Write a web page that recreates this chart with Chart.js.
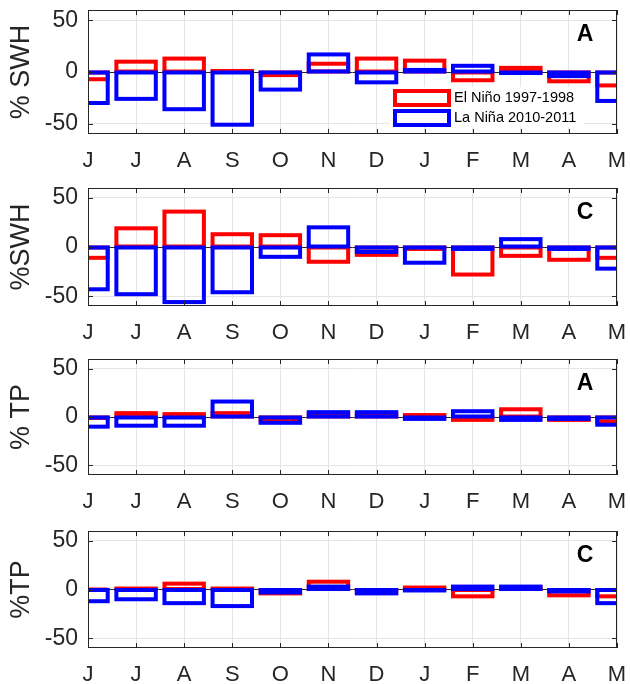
<!DOCTYPE html>
<html>
<head>
<meta charset="utf-8">
<script src="https://cdn.jsdelivr.net/npm/chart.js@4"></script>
<style>
  body { margin: 0; background: #fff; overflow: hidden; }
  .panel { position: absolute; left: 0; width: 630px; }
</style>
</head>
<body>
<div class="panel" id="p1"><canvas id="c1"></canvas></div>
<div class="panel" id="p2"><canvas id="c2"></canvas></div>
<div class="panel" id="p3"><canvas id="c3"></canvas></div>
<div class="panel" id="p4"><canvas id="c4"></canvas></div>
<script>
// June -> May, anomalies in %
var months = ["J", "J", "A", "S", "O", "N", "D", "J", "F", "M", "A", "M"];
var yTicks = [-50, 0, 50];
var legendLabels = ["El Niño 1997-1998", "La Niña 2010-2011"];

var swhA_nino = [-7, 10, 13, 1, -3, 8, 13, 11, -8, 4, -9, -13];
var swhA_nina = [-30, -26, -36, -51, -17, 17, -10, 2, 6, -1, -4, -28];
var swhC_nino = [-11, 19, 36, 13, 12, -15, -8, -2, -28, -9, -13, -11];
var swhC_nina = [-43, -48, -56, -46, -10, 20, -5, -16, -2, 8, -2, -22];
var tpA_nino = [-1, 4, 3, 4, -4, 3, 3, 2, -3, 8, -3, -5];
var tpA_nina = [-10, -9, -9, 16, -6, 5, 5, -2, 6, -3, -2, -8];
var tpC_nino = [0, 1, 6, 1, -4, 8, -3, 2, -7, 2, -6, -7];
var tpC_nina = [-12, -10, -14, -17, -3, 3, -4, -1, 3, 3, -2, -14];

var FONT = "'Liberation Sans', Arial, Helvetica, sans-serif";
var INK = "#262626";
var RED = "#ff0000";
var BLUE = "#0000ff";

// top of plot box and its height, per panel
var panels = [
  { box: "p1", canvas: "c1", top: 10, h: 124, title: "% SWH", tag: "A", nino: swhA_nino, nina: swhA_nina, legend: true },
  { box: "p2", canvas: "c2", top: 188, h: 118, title: "%SWH", tag: "C", nino: swhC_nino, nina: swhC_nina },
  { box: "p3", canvas: "c3", top: 359, h: 116, title: "% TP", tag: "A", nino: tpA_nino, nina: tpA_nina },
  { box: "p4", canvas: "c4", top: 531, h: 117, title: "%TP", tag: "C", nino: tpC_nino, nina: tpC_nina }
];

// matlab-ish look: open boxes, full axes box, inward ticks, legend inside
var matlabLook = {
  id: "matlabLook",
  afterDatasetsDraw: function (chart) {
    var ctx = chart.ctx, a = chart.chartArea;
    var xs = chart.scales.x;
    var w = (xs.getPixelForValue(1) - xs.getPixelForValue(0)) * 0.82;
    ctx.save();
    ctx.beginPath();
    ctx.rect(a.left, a.top, a.right - a.left, a.bottom - a.top);
    ctx.clip();
    ctx.lineWidth = 4;
    chart.data.datasets.forEach(function (ds, i) {
      ctx.strokeStyle = ds.outline;
      chart.getDatasetMeta(i).data.forEach(function (bar) {
        var p = bar.getProps(["x", "y", "base"], true);
        ctx.strokeRect(p.x - w / 2, Math.min(p.y, p.base), w, Math.abs(p.base - p.y));
      });
    });
    ctx.restore();
  },
  afterDraw: function (chart) {
    var ctx = chart.ctx, a = chart.chartArea;
    var xs = chart.scales.x, ys = chart.scales.y;
    var cfg = chart.options.plugins.matlabLook;
    ctx.save();
    ctx.strokeStyle = INK;
    ctx.lineWidth = 1;
    ctx.strokeRect(a.left + 0.5, a.top + 0.5, a.right - a.left - 1, a.bottom - a.top - 1);
    ctx.beginPath();
    for (var i = 0; i < months.length; i++) {
      var x = Math.round(xs.getPixelForValue(i)) + 0.5;
      ctx.moveTo(x, a.top); ctx.lineTo(x, a.top + 5);
      ctx.moveTo(x, a.bottom); ctx.lineTo(x, a.bottom - 5);
    }
    yTicks.forEach(function (v) {
      var y = Math.round(ys.getPixelForValue(v)) + 0.5;
      ctx.moveTo(a.left, y); ctx.lineTo(a.left + 5, y);
      ctx.moveTo(a.right, y); ctx.lineTo(a.right - 5, y);
    });
    ctx.stroke();

    // panel letter
    ctx.fillStyle = "#000";
    ctx.font = "bold 23px " + FONT;
    ctx.textAlign = "center";
    ctx.textBaseline = "middle";
    ctx.fillText(cfg.tag, a.right - 32, a.top + 25);

    if (cfg.legend) {
      var lx = a.right - 227, ly = a.top + 77;
      ctx.fillStyle = "#fff";
      ctx.fillRect(lx, ly, 194, 40);
      ctx.lineWidth = 4;
      var cols = [RED, BLUE];
      ctx.font = "14.5px " + FONT;
      ctx.textAlign = "left";
      for (var k = 0; k < 2; k++) {
        ctx.strokeStyle = cols[k];
        ctx.strokeRect(lx + 5, ly + 4 + k * 20, 54, 14);
        ctx.fillStyle = "#000";
        ctx.fillText(legendLabels[k], lx + 64, ly + 11 + k * 20);
      }
    }
    ctx.restore();
  }
};

panels.forEach(function (p) {
  var div = document.getElementById(p.box);
  div.style.top = (p.top - 10) + "px";
  div.style.height = (p.h + 10 + 44) + "px";

  new Chart(p.canvas, {
    type: "bar",
    data: {
      labels: months,
      datasets: [
        { label: legendLabels[0], data: p.nino, outline: RED, backgroundColor: "rgba(0,0,0,0)", borderWidth: 0, grouped: false },
        { label: legendLabels[1], data: p.nina, outline: BLUE, backgroundColor: "rgba(0,0,0,0)", borderWidth: 0, grouped: false }
      ]
    },
    options: {
      responsive: true,
      maintainAspectRatio: false,
      animation: false,
      events: [],
      layout: { padding: { top: 10, right: 13, left: 0, bottom: 0 } },
      plugins: {
        legend: { display: false },
        tooltip: { enabled: false },
        matlabLook: { tag: p.tag, legend: !!p.legend }
      },
      scales: {
        x: {
          type: "category",
          offset: false,
          grid: { offset: false, color: "#e5e5e5", drawTicks: false },
          border: { display: false },
          ticks: { autoSkip: false, maxRotation: 0, padding: 14, color: INK, font: { family: FONT, size: 22 } },
          afterFit: function (s) { s.height = 44; s.paddingLeft = 0; s.paddingRight = 0; }
        },
        y: {
          min: -60,
          max: 60,
          afterBuildTicks: function (s) {
            s.ticks = yTicks.map(function (v) { return { value: v }; });
          },
          grid: {
            drawTicks: false,
            color: function (c) { return c.tick && c.tick.value === 0 ? INK : "#e5e5e5"; }
          },
          border: { display: false },
          ticks: { padding: 10, color: INK, font: { family: FONT, size: 23 } },
          title: { display: true, text: p.title, color: INK, padding: { top: 5, bottom: 0 }, font: { family: FONT, size: 27 } },
          afterFit: function (s) { s.width = 88; s.paddingTop = 0; s.paddingBottom = 0; }
        }
      }
    },
    plugins: [matlabLook]
  });
});
</script>
</body>
</html>
